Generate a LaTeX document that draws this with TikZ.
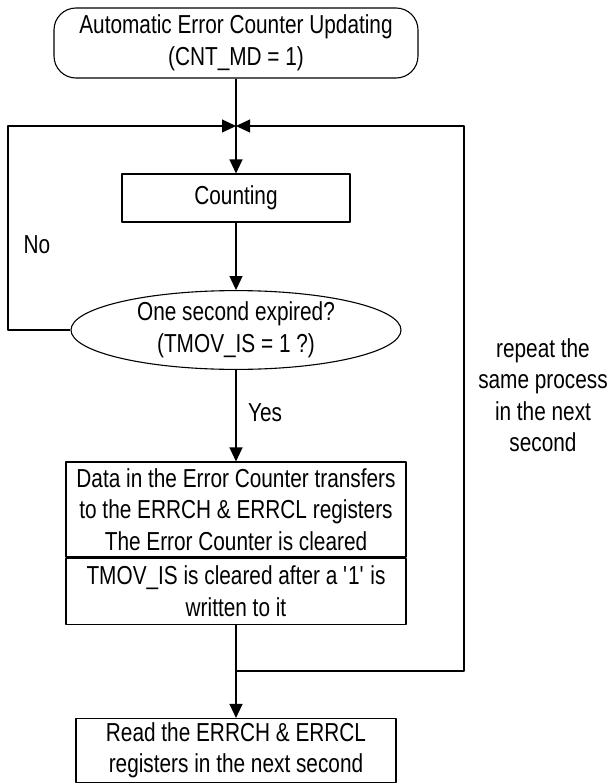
\documentclass[tikz,border=0pt]{standalone}
\usepackage{fontspec}
\setmainfont{Liberation Sans}[FakeStretch=0.8]
\usetikzlibrary{arrows.meta,shapes.geometric}
\begin{document}
\begin{tikzpicture}[x=1pt, y=-1pt, line width=1.1pt, line join=round,
    font=\fontsize{26}{31.5}\selectfont,
    arr/.style={-{Triangle[length=14pt,width=13pt]}},
    procbox/.style={draw, rectangle, align=center, inner sep=0pt},
    startbox/.style={procbox, rounded corners=22pt},
    testbox/.style={draw, ellipse, align=center, inner sep=0pt}]
  \useasboundingbox (0,0) rectangle (609,784);

  \node[startbox, minimum width=364pt, minimum height=70pt] (start) at (236,43)
    {Automatic Error Counter Updating\\(CNT\_MD = 1)};
  \coordinate (join) at (236,126);
  \coordinate (ltop) at (8,126);
  \coordinate (rtop) at (464,126);
  \node[procbox, minimum width=228pt, minimum height=48pt] (count) at (236,198) {Counting};
  \node[testbox, minimum width=330pt, minimum height=74pt] (test) at (236,330)
    {One second expired?\\(TMOV\_IS = 1 ?)};
  \node[procbox, minimum width=340pt, minimum height=95pt] (xfer) at (236,509.5)
    {Data in the Error Counter transfers\\to the ERRCH \& ERRCL registers\\The Error Counter is cleared};
  \node[procbox, minimum width=340pt, minimum height=66pt, anchor=north] (clr) at (xfer.south)
    {TMOV\_IS is cleared after a \textquotesingle 1\textquotesingle{} is\\written to it};
  \coordinate (back) at (236,671);
  \node[procbox, minimum width=320pt, minimum height=64pt] (read) at (236,750.5)
    {Read the ERRCH \& ERRCL\\registers in the next second};

  \node (no) at (37,245) {No};
  \node (yes) at (265,413) {Yes};
  \node[align=center] (note) at (543,395) {repeat the\\same process\\in the next\\second};

  \draw (start) -- (join);
  \draw[arr] (join) -- (count);
  \draw[arr] (count) -- (test);
  \draw[arr] (test.south) -- (xfer.north);
  \draw[arr] (clr.south) -- (read.north);
  \draw[arr] (test.west) -| (ltop) -- (join);
  \draw[arr] (back) -| (rtop) -- (join);
\end{tikzpicture}
\end{document}
